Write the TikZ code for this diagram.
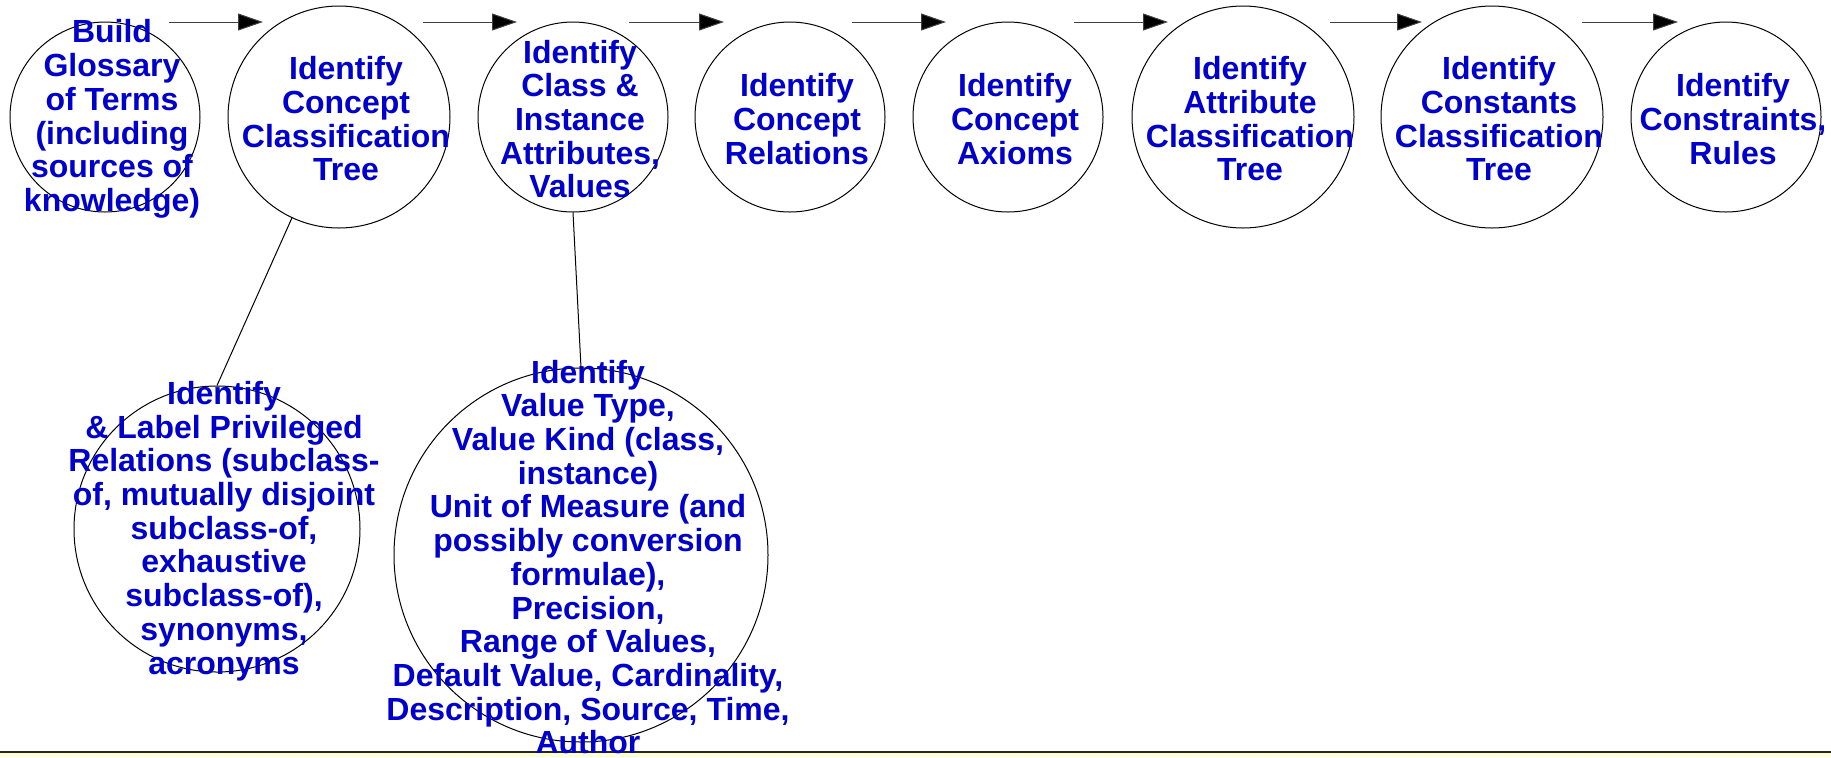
\documentclass[tikz,border=0pt]{standalone}
\usepackage{fontspec}
\setmainfont{Liberation Sans}
\usetikzlibrary{arrows.meta}
\definecolor{stepblue}{RGB}{0,0,204}
\definecolor{bandyellow}{RGB}{255,255,212}
\tikzset{
    bubble/.style={draw,circle,inner sep=0pt,line width=0.5pt},
    lbl/.style={text=stepblue,align=center,inner sep=0pt,xshift=3.5pt,yshift=-1pt,
        font=\fontsize{16pt}{16.85pt}\selectfont\bfseries},
    flow/.style={line width=0.5pt,black!75,-{Triangle[length=12.5pt,width=8.5pt,fill=black]}},
}
\begin{document}
\begin{tikzpicture}[x=0.5pt,y=-0.5pt]
    \useasboundingbox (0,0) rectangle (1831,757);
    \fill[bandyellow] (0,752) rectangle (1831,757);
    \draw[line width=0.6pt,black!85] (0,752) -- (1831,752);

    \node[bubble,minimum size=95pt,label={[lbl]center:Build\\Glossary\\of Terms\\(including\\sources of\\knowledge)}] (gloss) at (105,117) {};
    \node[bubble,minimum size=111pt,label={[lbl]center:Identify\\Concept\\Classification\\Tree}] (ctree) at (339,117) {};
    \node[bubble,minimum size=95pt,label={[lbl]center:Identify\\Class \&\\Instance\\Attributes,\\Values}] (attrs) at (573,117) {};
    \node[bubble,minimum size=95pt,label={[lbl]center:Identify\\Concept\\Relations}] (crel) at (790,117) {};
    \node[bubble,minimum size=95pt,label={[lbl]center:Identify\\Concept\\Axioms}] (caxiom) at (1008,117) {};
    \node[bubble,minimum size=111pt,label={[lbl]center:Identify\\Attribute\\Classification\\Tree}] (atree) at (1243,117) {};
    \node[bubble,minimum size=111pt,label={[lbl]center:Identify\\Constants\\Classification\\Tree}] (ktree) at (1492,117) {};
    \node[bubble,minimum size=95pt,label={[lbl]center:Identify\\Constraints,\\Rules}] (rules) at (1726,117) {};

    \node[bubble,minimum size=143pt,label={[lbl]center:Identify\\\& Label Privileged\\Relations (subclass-\\of, mutually disjoint\\subclass-of,\\exhaustive\\subclass-of),\\synonyms,\\acronyms}] (privrel) at (217,529) {};
    \node[bubble,minimum size=187pt,label={[lbl]center:Identify\\Value Type,\\Value Kind (class,\\instance)\\Unit of Measure (and\\possibly conversion\\formulae),\\Precision,\\Range of Values,\\Default Value, Cardinality,\\Description, Source, Time,\\Author}] (valtype) at (581,555) {};

    \foreach \a/\b [count=\i] in {169/263,423/517,629/724,852/946,1074/1168,1330/1422,1582/1678}{
        \coordinate (s\i) at (\a,22);
        \coordinate (e\i) at (\b,22);
        \draw[flow] (s\i) -- (e\i);
    }

    \draw[line width=0.5pt] (ctree.245) -- (privrel.north);
    \draw[line width=0.5pt] (attrs.south) -- (valtype.north);
\end{tikzpicture}
\end{document}
